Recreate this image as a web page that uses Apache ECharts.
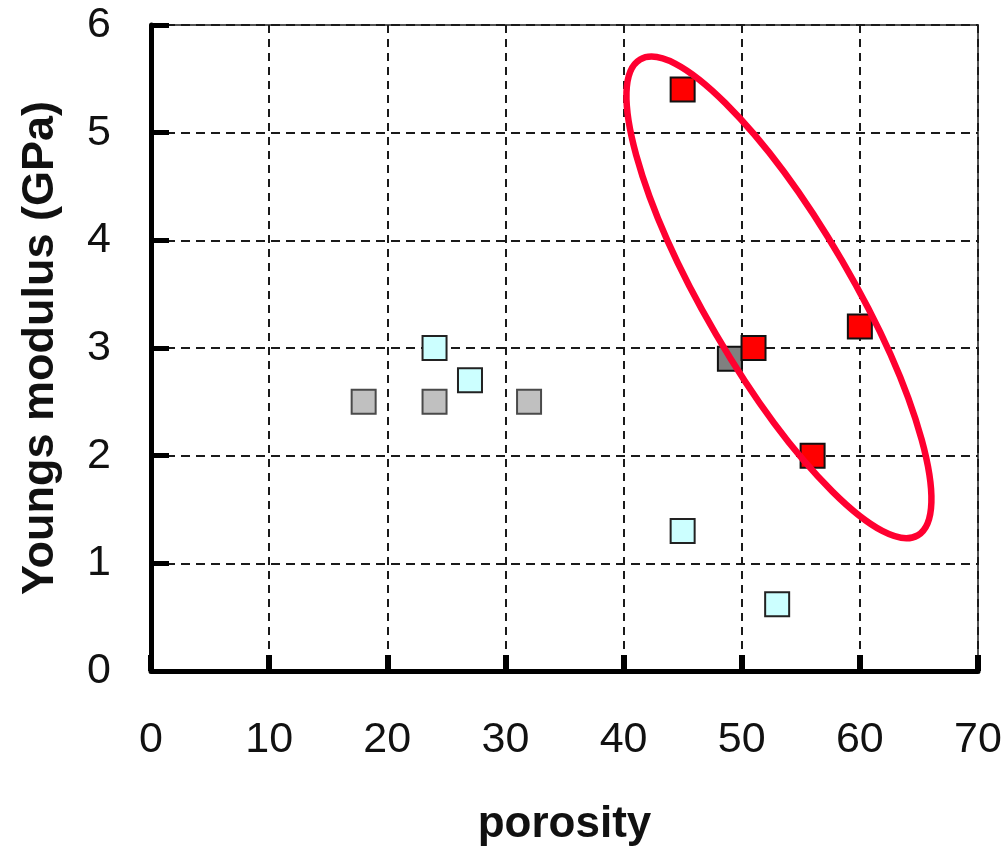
<!DOCTYPE html>
<html>
<head>
<meta charset="utf-8">
<script src="https://cdn.jsdelivr.net/npm/echarts@6/dist/echarts.min.js"></script>
<style>
  html, body { margin: 0; padding: 0; background: #fff; }
  #chart { width: 1008px; height: 848px; }
</style>
</head>
<body>
<div id="chart"></div>
<script>
// Porosity (%) vs Young's modulus (GPa), three sample groups
const greyPoints = [[18, 2.5], [24, 2.5], [32, 2.5]];
const darkGreyPoints = [[49, 2.9]];
const cyanPoints = [[24, 3.0], [27, 2.7], [45, 1.3], [53, 0.62]];
const redPoints = [[45, 5.4], [51, 3.0], [60, 3.2], [56, 2.0]];

// Highlight ellipse: the two ends of its long axis, in data units
const ellipseAxis = [[41.4, 5.68, 64.9, 1.26]];

const xTicks = [0, 10, 20, 30, 40, 50, 60, 70];
const yTicks = [0, 1, 2, 3, 4, 5, 6];

const FONT = '"Liberation Sans", Arial, sans-serif';

const chart = echarts.init(document.getElementById('chart'), null, { renderer: 'canvas' });

function squareSeries(data, fill, border, borderWidth, z) {
  return {
    type: 'scatter',
    data: data,
    symbol: 'rect',
    symbolSize: 24,
    z: z,
    itemStyle: { color: fill, borderColor: border, borderWidth: borderWidth, opacity: 1 },
    emphasis: { disabled: true }
  };
}

chart.setOption({
  animation: false,
  backgroundColor: '#ffffff',
  grid: {
    left: 151, right: 30, top: 25, bottom: 177,
    show: true, borderColor: '#555', borderWidth: 2,
    containLabel: false,
    outerBoundsMode: 'none'
  },
  xAxis: {
    type: 'value',
    min: xTicks[0], max: xTicks[xTicks.length - 1], interval: 10,
    name: 'porosity',
    nameLocation: 'middle',
    nameGap: 132,
    nameTextStyle: { fontFamily: FONT, fontSize: 44, fontWeight: 'bold', color: '#111' },
    axisLine: { show: true, onZero: false, lineStyle: { color: '#000', width: 5 } },
    axisTick: { show: true, inside: true, length: 16, lineStyle: { color: '#000', width: 6 } },
    axisLabel: { fontFamily: FONT, fontSize: 43, color: '#111', margin: 48 },
    splitLine: { show: true, lineStyle: { color: '#1a1a1a', width: 2, type: [8, 6] } }
  },
  yAxis: {
    type: 'value',
    min: yTicks[0], max: yTicks[yTicks.length - 1], interval: 1,
    name: 'Youngs modulus (GPa)',
    nameLocation: 'middle',
    nameGap: 88,
    nameTextStyle: { fontFamily: FONT, fontSize: 45, fontWeight: 'bold', color: '#111' },
    axisLine: { show: true, onZero: false, lineStyle: { color: '#000', width: 5 } },
    axisTick: { show: true, inside: true, length: 18, lineStyle: { color: '#000', width: 5 } },
    axisLabel: { fontFamily: FONT, fontSize: 43, color: '#111', margin: 40 },
    splitLine: { show: true, lineStyle: { color: '#1a1a1a', width: 2, type: [9, 6] } }
  },
  series: [
    squareSeries(greyPoints, '#c0c0c0', '#4a4a4a', 2, 3),
    squareSeries(darkGreyPoints, '#808080', '#111', 2, 3),
    squareSeries(cyanPoints, '#ccffff', '#222', 2, 4),
    squareSeries(redPoints, '#ff0000', '#111', 2, 5),
    {
      type: 'custom',
      z: 6,
      silent: true,
      data: ellipseAxis,
      renderItem: function (params, api) {
        const p1 = api.coord([api.value(0), api.value(1)]);
        const p2 = api.coord([api.value(2), api.value(3)]);
        const cx = (p1[0] + p2[0]) / 2;
        const cy = (p1[1] + p2[1]) / 2;
        const rx = Math.hypot(p2[0] - p1[0], p2[1] - p1[1]) / 2;
        const ang = Math.atan2(p2[1] - p1[1], p2[0] - p1[0]);
        return {
          type: 'ellipse',
          x: cx, y: cy,
          rotation: -ang,
          shape: { cx: 0, cy: 0, rx: rx, ry: 73 },
          style: { fill: 'none', stroke: '#ff0030', lineWidth: 6.5 }
        };
      }
    }
  ]
});
</script>
</body>
</html>
